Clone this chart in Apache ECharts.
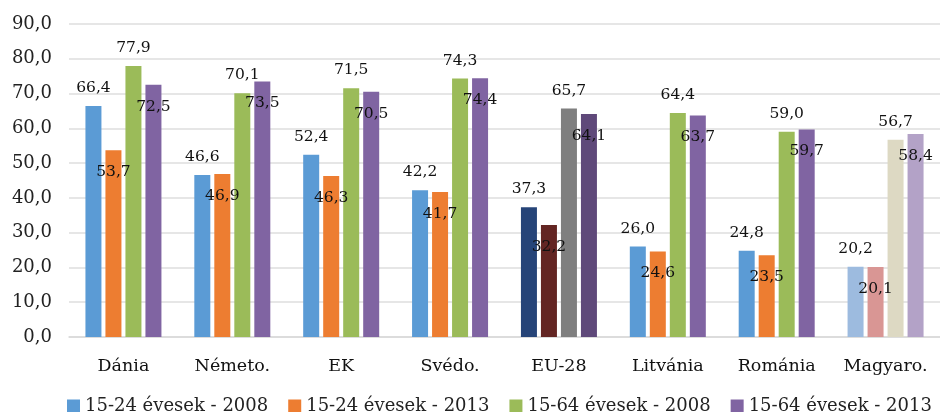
<!DOCTYPE html>
<html><head><meta charset="utf-8">
<script src="https://cdn.jsdelivr.net/npm/echarts@6/dist/echarts.min.js"></script>
<style>html,body{margin:0;padding:0;background:#fff}#c{width:940px;height:412px}</style>
</head><body><div id="c"></div>
<script>
var categories = ['Dánia','Németo.','EK','Svédo.','EU-28','Litvánia','Románia','Magyaro.'];
var seriesNames = ['15-24 évesek - 2008','15-24 évesek - 2013','15-64 évesek - 2008','15-64 évesek - 2013'];
var youth2008 = [66.4, 46.6, 52.4, 42.2, 37.3, 26.0, 24.8, 20.2];
var youth2013 = [53.7, 46.9, 46.3, 41.7, 32.2, 24.6, 23.5, 20.1];
var all2008 = [77.9, 70.1, 71.5, 74.3, 65.7, 64.4, 59.0, 56.7];
var all2013 = [72.5, 73.5, 70.5, 74.4, 64.1, 63.7, 59.7, 58.4];
var baseColors = ['#5B9BD5','#ED7D31','#9BBB59','#8064A2'];
var euColors = ['#264478','#632523','#7F7F7F','#5F497A'];
var huColors = ['#9DBBDF','#D99694','#DDD9C3','#B3A2C7'];

var font = 'DejaVu Serif';
function fmt(v){ return v.toFixed(1).replace('.', ','); }
var values = [youth2008, youth2013, all2008, all2013];
var series = values.map(function(arr, si){
  var inside = (si % 2 === 1);
  return {
    name: seriesNames[si],
    type: 'bar',
    barWidth: 16,
    barGap: '25%',
    itemStyle: {color: baseColors[si]},
    data: arr.map(function(v, ci){
      var d = {value: v};
      if (ci === 4) d.itemStyle = {color: euColors[si]};
      if (ci === 7) d.itemStyle = {color: huColors[si]};
      return d;
    }),
    label: {
      show: true,
      position: inside ? 'insideTop' : 'top',
      distance: inside ? 14 : 10,
      fontFamily: font, fontSize: 15.5, color: '#111',
      formatter: function(p){ return fmt(p.value); }
    }
  };
});

var chart = echarts.init(document.getElementById('c'));
chart.setOption({
  animation: false,
  color: baseColors,
  grid: {left: 69, top: 24, width: 880, height: 313},
  legend: {
    data: seriesNames, top: 392, left: 62, itemWidth: 13, itemHeight: 13, itemGap: 20,
    icon: 'rect',
    textStyle: {fontFamily: font, fontSize: 18, color: '#222'}
  },
  xAxis: {
    type: 'category', data: categories,
    axisLine: {lineStyle: {color: '#d9d9d9', width: 1.5}},
    axisTick: {show: false},
    axisLabel: {interval: 0, fontFamily: font, fontSize: 17.5, color: '#111', margin: 20}
  },
  yAxis: {
    type: 'value', min: 0, max: 90, interval: 10,
    axisLine: {show: false}, axisTick: {show: false},
    splitLine: {lineStyle: {color: '#dedede', width: 1.5}},
    axisLabel: {fontFamily: font, fontSize: 18, color: '#222', margin: 17,
      formatter: function(v){ return fmt(v); }}
  },
  series: series
});
</script></body></html>
